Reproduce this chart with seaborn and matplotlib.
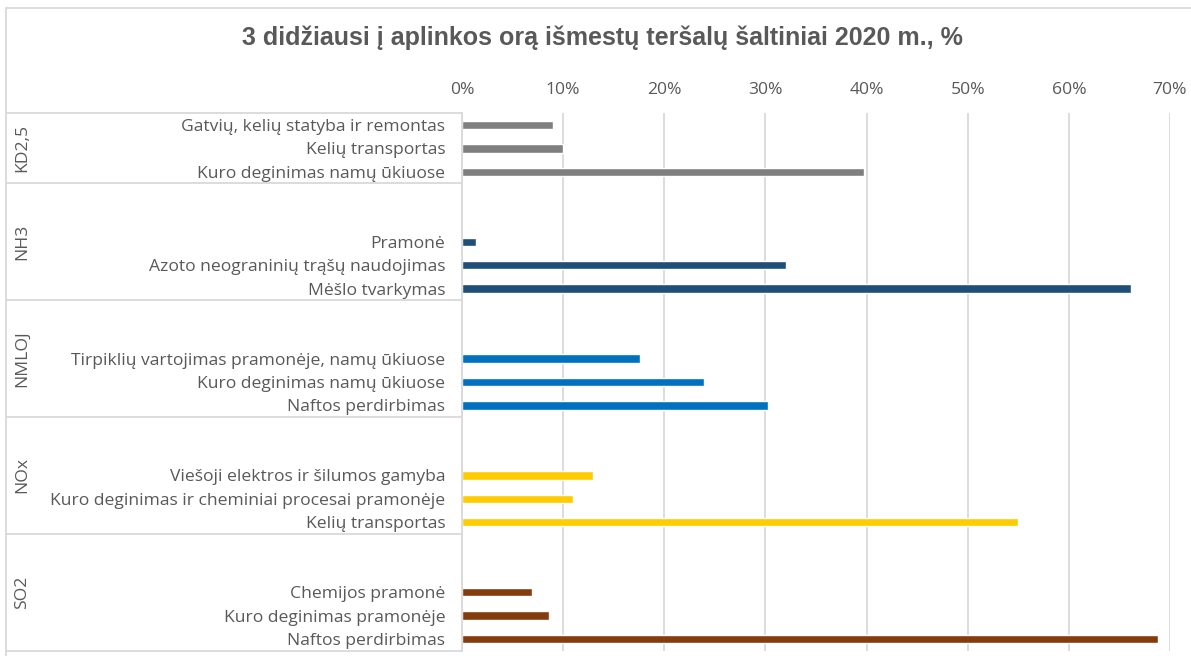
import matplotlib
matplotlib.use("Agg")
import matplotlib.pyplot as plt
import matplotlib.transforms as mtransforms
from matplotlib.lines import Line2D
from matplotlib.patches import Rectangle
from matplotlib.ticker import PercentFormatter, MultipleLocator
import pandas as pd
import seaborn as sns

title = "3 didžiausi į aplinkos orą išmestų teršalų šaltiniai 2020 m., %"
pollutants = ["KD2,5", "NH3", "NMLOJ", "NOx", "SO2"]
sources = [
    ["Gatvių, kelių statyba ir remontas", "Kelių transportas", "Kuro deginimas namų ūkiuose"],
    ["Pramonė", "Azoto neograninių trąšų naudojimas", "Mėšlo tvarkymas"],
    ["Tirpiklių vartojimas pramonėje, namų ūkiuose", "Kuro deginimas namų ūkiuose", "Naftos perdirbimas"],
    ["Viešoji elektros ir šilumos gamyba", "Kuro deginimas ir cheminiai procesai pramonėje", "Kelių transportas"],
    ["Chemijos pramonė", "Kuro deginimas pramonėje", "Naftos perdirbimas"],
]
shares = [
    [9.0, 10.0, 39.7],
    [1.4, 32.0, 66.1],
    [17.6, 23.9, 30.3],
    [13.0, 11.0, 55.0],
    [6.9, 8.6, 68.8],
]
colors = ["#7F7F7F", "#1F4E79", "#0070C0", "#FFCC00", "#843C0C"]

# each pollutant occupies 5 slots on the category axis: 2 empty, then 3 sources
SLOTS = 5
rows = []
for g, pol in enumerate(pollutants):
    for i, (src, val) in enumerate(zip(sources[g], shares[g])):
        rows.append({"pollutant": pol, "source": src, "share": val,
                     "pos": g * SLOTS + 2 + i})
df = pd.DataFrame(rows)

sns.set_theme(style="white")
plt.rcParams["font.family"] = ["Open Sans", "DejaVu Sans"]

W, H = 1191, 656
fig = plt.figure(figsize=(W / 100, H / 100), dpi=100)
ax = fig.add_axes([462 / W, 1 - 650.7 / H, (1170 - 462) / W, (650.7 - 113.3) / H])

sns.barplot(data=df, x="share", y="pos", hue="pollutant", orient="y",
            native_scale=True, dodge=False, width=0.36, saturation=1,
            palette=dict(zip(pollutants, colors)), legend=False, ax=ax)

top_edge, bottom_edge = 1.5, len(pollutants) * SLOTS - 0.5
ax.set_xlim(0, 70)
ax.set_ylim(bottom_edge, top_edge)

text_col = "#595959"
grid_col = "#D9D9D9"
fs = 12.6

ax.xaxis.tick_top()
ax.xaxis.set_major_locator(MultipleLocator(10))
ax.xaxis.set_major_formatter(PercentFormatter(100, decimals=0))
ax.tick_params(axis="x", length=0, pad=11, labelsize=fs, labelcolor=text_col)
ax.grid(axis="x", color=grid_col, lw=1.3)
ax.grid(axis="y", visible=False)
ax.set_axisbelow(True)

ax.set_yticks(df["pos"], df["source"])
ax.tick_params(axis="y", length=0, pad=12, labelsize=fs, labelcolor=text_col)
ax.set_xlabel("")
ax.set_ylabel("")
for side in ["top", "right", "bottom"]:
    ax.spines[side].set_visible(False)
ax.spines["left"].set_color(grid_col)
ax.spines["left"].set_linewidth(1.3)

# group boxes on the category side
blend = mtransforms.blended_transform_factory(fig.transFigure, ax.transData)
x_left = 6 / W
x_axis = 462 / W
bounds = [top_edge] + [g * SLOTS - 0.5 for g in range(1, len(pollutants))] + [bottom_edge]
for b in bounds:
    fig.add_artist(Line2D([x_left, x_axis], [b, b], transform=blend,
                          color=grid_col, lw=1.3, clip_on=False))
for g, pol in enumerate(pollutants):
    yc = (bounds[g] + bounds[g + 1]) / 2
    fig.text(22 / W, yc, pol, transform=blend, rotation=90, ha="center",
             va="center", fontsize=fs, color=text_col)

# chart frame
fig.add_artist(Rectangle((x_left, -0.2), 1.2, 1.2 - 8 / H, transform=fig.transFigure,
                         fill=False, edgecolor=grid_col, lw=1.3, clip_on=False))

fig.text(602 / W, 1 - 38 / H, title, ha="center", va="center", fontsize=18,
         fontweight="bold", color=text_col, family=["Liberation Sans", "DejaVu Sans"])

fig.savefig("out.png", dpi=100, facecolor="white")
